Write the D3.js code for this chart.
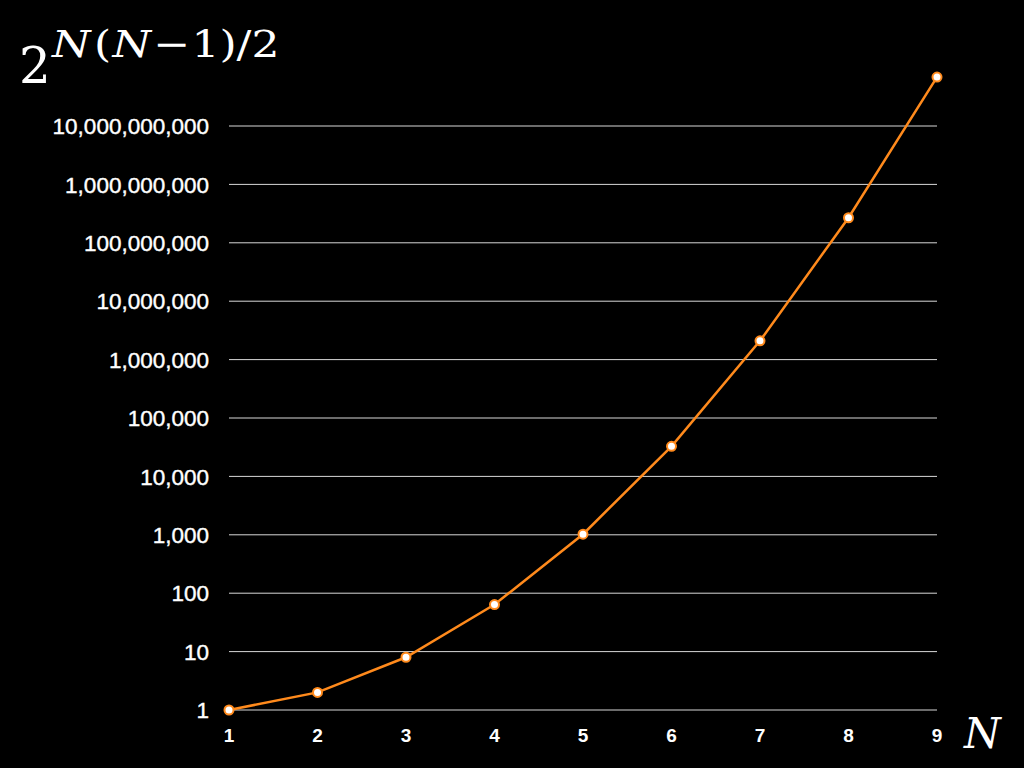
<html>
<head>
<script src="https://cdnjs.cloudflare.com/ajax/libs/d3/7.8.5/d3.min.js"></script>
<style>
  body { margin: 0; background: #000; }
  svg text { fill: #fff; }
</style>
</head>
<body>
<svg id="chart"></svg>
<script>
    var nValues = [1, 2, 3, 4, 5, 6, 7, 8, 9];
    var counts = [1, 2, 8, 64, 1024, 32768, 2097152, 268435456, 68719476736];
    var yTicks = [1, 10, 100, 1000, 10000, 100000, 1000000, 10000000, 100000000, 1000000000, 10000000000];

    var width = 1024, height = 768;

    var svg = d3.select("#chart")
        .attr("width", width)
        .attr("height", height);

    svg.append("rect")
        .attr("width", width)
        .attr("height", height)
        .attr("fill", "#000");

    var x = d3.scaleLinear()
        .domain([1, 9])
        .range([229, 937]);

    var y = d3.scaleLog()
        .domain([1, 1e10])
        .range([710, 126]);

    // gridlines
    svg.append("g")
        .selectAll("line")
        .data(yTicks)
        .enter().append("line")
        .attr("x1", x(1))
        .attr("x2", x(9))
        .attr("y1", function(d) { return y(d); })
        .attr("y2", function(d) { return y(d); })
        .attr("stroke", "#d8d8d8")
        .attr("stroke-width", 1);

    var fmt = d3.format(",");

    svg.append("g")
        .selectAll("text")
        .data(yTicks)
        .enter().append("text")
        .attr("x", 209)
        .attr("y", function(d) { return y(d); })
        .attr("dy", "0.36em")
        .attr("text-anchor", "end")
        .style("font-family", "Liberation Sans, Arial, sans-serif")
        .style("font-size", "22.5px")
        .style("stroke", "#fff")
        .style("stroke-width", 0.4)
        .text(function(d) { return fmt(d); });

    svg.append("g")
        .selectAll("text")
        .data(nValues)
        .enter().append("text")
        .attr("x", function(d) { return x(d); })
        .attr("y", 742)
        .attr("text-anchor", "middle")
        .style("font-family", "Liberation Sans, Arial, sans-serif")
        .style("font-size", "19px")
        .style("font-weight", "bold")
        .text(function(d) { return d; });

    var line = d3.line()
        .x(function(d, i) { return x(nValues[i]); })
        .y(function(d) { return y(d); });

    svg.append("path")
        .datum(counts)
        .attr("d", line)
        .attr("fill", "none")
        .attr("stroke", "#ff8a1c")
        .attr("stroke-width", 2.5);

    svg.append("g")
        .selectAll("circle")
        .data(counts)
        .enter().append("circle")
        .attr("cx", function(d, i) { return x(nValues[i]); })
        .attr("cy", function(d) { return y(d); })
        .attr("r", 4.5)
        .attr("fill", "#fff")
        .attr("stroke", "#ff8a1c")
        .attr("stroke-width", 2);

    // title formula 2^{N(N-1)/2}
    var serif = "DejaVu Serif, Liberation Serif, serif";
    svg.append("text")
        .attr("x", 19)
        .attr("y", 83)
        .style("font-family", serif)
        .style("font-size", "50px")
        .text("2");

    var sup = svg.append("text")
        .attr("transform", "translate(52,57) scale(1.16,1)")
        .style("font-family", serif)
        .style("font-size", "38px");
    sup.append("tspan").style("font-style", "italic").text("N");
    sup.append("tspan").attr("dx", 3).text("(");
    sup.append("tspan").attr("dx", 1).style("font-style", "italic").text("N");
    sup.append("tspan").attr("dx", 2).text("\u2212");
    sup.append("tspan").attr("dx", 1).text("1)/2");

    svg.append("text")
        .attr("x", 964)
        .attr("y", 748)
        .style("font-family", serif)
        .style("font-style", "italic")
        .style("font-size", "42px")
        .text("N");
</script>
</body>
</html>
